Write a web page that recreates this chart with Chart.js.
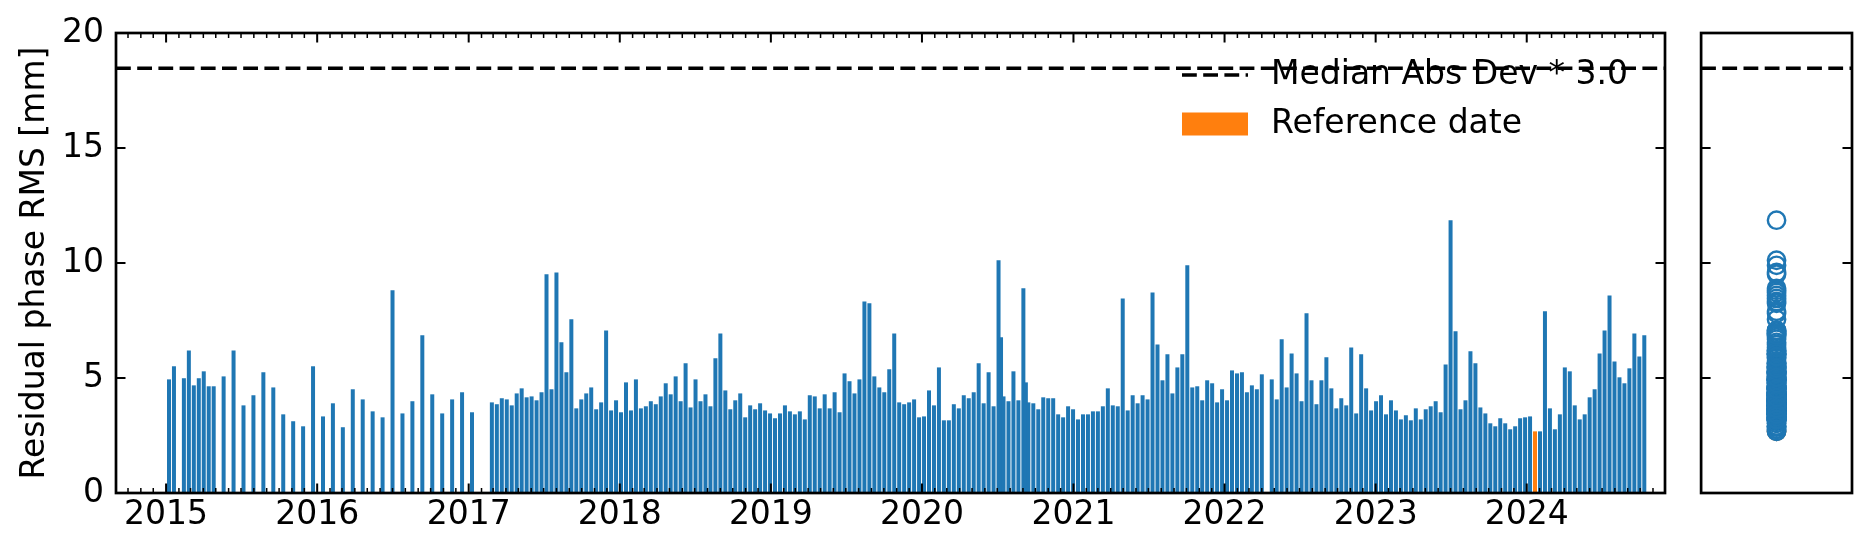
<!DOCTYPE html>
<html><head><meta charset="utf-8">
<script src="https://cdn.jsdelivr.net/npm/chart.js@4"></script>
<style>
html,body{margin:0;padding:0;background:#fff;}
#wrap{position:relative;width:1872px;height:556px;overflow:hidden;}
#main{position:absolute;left:0;top:0;}
#side{position:absolute;left:1690px;top:0;}
</style></head><body>
<div id="wrap"><canvas id="main" width="1690" height="556"></canvas><canvas id="side" width="182" height="556"></canvas></div>
<script>
// ---------- data ----------
const acqDates = [
 '2015-01-08','2015-01-20','2015-02-13','2015-02-25','2015-03-09','2015-03-21','2015-04-02','2015-04-14','2015-04-26','2015-05-20','2015-06-13','2015-07-07','2015-07-31','2015-08-24','2015-09-17','2015-10-11','2015-11-04','2015-11-28','2015-12-22',
 '2016-01-15','2016-02-08','2016-03-03','2016-03-27','2016-04-20','2016-05-14','2016-06-07','2016-07-01','2016-07-25','2016-08-18','2016-09-11','2016-10-05','2016-10-29','2016-11-22','2016-12-16',
 '2017-01-09','2017-02-26','2017-03-10','2017-03-22','2017-04-03','2017-04-15','2017-04-27','2017-05-09','2017-05-21','2017-06-02','2017-06-14','2017-06-26','2017-07-08','2017-07-20','2017-08-01','2017-08-13','2017-08-25','2017-09-06','2017-09-18','2017-09-30','2017-10-12','2017-10-24','2017-11-05','2017-11-17','2017-11-29','2017-12-11','2017-12-23',
 '2018-01-04','2018-01-16','2018-01-28','2018-02-09','2018-02-21','2018-03-05','2018-03-17','2018-03-29','2018-04-10','2018-04-22','2018-05-04','2018-05-16','2018-05-28','2018-06-09','2018-06-21','2018-07-03','2018-07-15','2018-07-27','2018-08-08','2018-08-20','2018-09-01','2018-09-13','2018-09-25','2018-10-07','2018-10-19','2018-10-31','2018-11-12','2018-11-24','2018-12-06','2018-12-18','2018-12-30',
 '2019-01-11','2019-01-23','2019-02-04','2019-02-16','2019-02-28','2019-03-12','2019-03-24','2019-04-05','2019-04-17','2019-04-29','2019-05-11','2019-05-23','2019-06-04','2019-06-16','2019-06-28','2019-07-10','2019-07-22','2019-08-03','2019-08-15','2019-08-27','2019-09-08','2019-09-20','2019-10-02','2019-10-14','2019-10-26','2019-11-07','2019-11-19','2019-12-01','2019-12-13','2019-12-25',
 '2020-01-06','2020-01-18','2020-01-30','2020-02-11','2020-02-23','2020-03-06','2020-03-18','2020-03-30','2020-04-11','2020-04-23','2020-05-05','2020-05-17','2020-05-29','2020-06-10','2020-06-22','2020-07-04','2020-07-10','2020-07-16','2020-07-28','2020-08-09','2020-08-21','2020-09-02','2020-09-08','2020-09-14','2020-09-26','2020-10-08','2020-10-20','2020-11-01','2020-11-13','2020-11-25','2020-12-07','2020-12-19','2020-12-31',
 '2021-01-12','2021-01-24','2021-02-05','2021-02-17','2021-03-01','2021-03-13','2021-03-25','2021-04-06','2021-04-18','2021-04-30','2021-05-12','2021-05-24','2021-06-05','2021-06-17','2021-06-29','2021-07-11','2021-07-23','2021-08-04','2021-08-16','2021-08-28','2021-09-09','2021-09-21','2021-10-03','2021-10-15','2021-10-27','2021-11-08','2021-11-20','2021-12-02','2021-12-14','2021-12-26',
 '2022-01-07','2022-01-19','2022-01-31','2022-02-12','2022-02-24','2022-03-08','2022-03-20','2022-04-01','2022-04-25','2022-05-07','2022-05-19','2022-05-31','2022-06-12','2022-06-24','2022-07-06','2022-07-18','2022-07-30','2022-08-11','2022-08-23','2022-09-04','2022-09-16','2022-09-28','2022-10-10','2022-10-22','2022-11-03','2022-11-15','2022-11-27','2022-12-09','2022-12-21',
 '2023-01-02','2023-01-14','2023-01-26','2023-02-07','2023-02-19','2023-03-03','2023-03-15','2023-03-27','2023-04-08','2023-04-20','2023-05-02','2023-05-14','2023-05-26','2023-06-07','2023-06-19','2023-07-01','2023-07-13','2023-07-25','2023-08-06','2023-08-18','2023-08-30','2023-09-11','2023-09-23','2023-10-05','2023-10-17','2023-10-29','2023-11-10','2023-11-22','2023-12-04','2023-12-16','2023-12-28',
 '2024-01-09','2024-01-21','2024-02-02','2024-02-14','2024-02-26','2024-03-09','2024-03-21','2024-04-02','2024-04-14','2024-04-26','2024-05-08','2024-05-20','2024-06-01','2024-06-13','2024-06-25','2024-07-07','2024-07-19','2024-07-31','2024-08-12','2024-08-24','2024-09-05','2024-09-17','2024-09-29','2024-10-11'
];
const rmsValues = [
 4.94,5.51,4.99,6.20,4.68,4.99,5.29,4.64,4.64,5.07,6.20,3.81,4.25,5.25,4.59,3.42,3.12,2.90,5.51,
 3.33,3.90,2.86,4.51,4.07,3.55,3.29,8.81,3.46,3.99,6.86,4.29,3.46,4.07,4.38,
 3.51,3.94,3.86,4.12,4.07,3.81,4.33,4.55,4.16,4.20,4.03,4.38,9.51,4.51,9.59,6.55,5.25,7.55,3.68,4.07,4.33,4.59,3.64,3.94,7.07,3.59,4.03,
 3.51,4.81,3.59,4.94,3.68,3.77,3.99,3.86,4.20,4.77,4.29,5.07,3.99,5.64,3.72,4.94,3.99,4.29,3.77,5.86,6.94,4.46,3.64,4.03,4.33,3.29,3.81,3.64,3.90,3.59,3.46,
 3.25,3.46,3.81,3.55,3.42,3.55,3.20,4.25,4.20,3.68,4.29,3.68,4.38,3.51,5.20,4.86,4.33,4.94,8.33,8.25,5.07,4.59,4.38,5.38,6.94,3.94,3.86,3.94,4.07,3.29,
 3.33,4.46,3.81,5.46,3.16,3.16,3.86,3.68,4.25,4.12,4.38,5.64,3.90,5.25,3.77,10.12,6.77,4.20,3.99,5.29,4.03,8.90,4.81,3.94,3.90,3.64,4.16,4.12,4.12,3.42,3.29,3.77,3.64,
 3.20,3.42,3.42,3.55,3.55,3.77,4.55,3.81,3.77,8.46,3.59,4.25,3.90,4.25,4.07,8.72,6.46,4.90,6.03,4.33,5.46,6.03,9.90,4.59,4.64,4.03,4.90,4.77,3.94,4.51,
 4.03,5.33,5.20,5.25,4.38,4.68,4.51,5.16,4.94,4.07,6.68,4.59,6.07,5.20,3.99,7.81,4.90,3.86,4.90,5.90,4.55,3.68,4.12,3.81,6.33,3.46,6.03,4.55,3.59,
 3.99,4.25,3.42,4.03,3.59,3.20,3.38,3.16,3.68,3.20,3.64,3.77,3.99,3.51,5.59,11.86,7.03,3.64,4.03,6.16,5.64,3.72,3.46,3.03,2.90,3.25,3.03,2.77,2.90,3.25,3.29,
 3.33,2.68,2.68,7.90,3.68,2.77,3.42,5.46,5.29,3.81,3.20,3.42,4.16,4.51,6.07,7.07,8.59,5.72,5.03,4.77,5.42,6.94,5.94,6.86
];
const referenceDate = '2024-01-21';
const madThreshold = 18.47;              // Median Abs Dev * 3.0
const yearLabels = ['2015','2016','2017','2018','2019','2020','2021','2022','2023','2024'];
const yTickValues = [0, 5, 10, 15, 20];
const xRange = ['2014-09-02', '2024-11-30'];
const legendLabels = ['Median Abs Dev * 3.0', 'Reference date'];
const yTitle = 'Residual phase RMS [mm]';

// ---------- styling ----------
const BLUE = '#1f77b4', ORANGE = '#ff7f0e';
const FONT = 'DejaVu Sans';
const DASH = [14.8, 6.4], DASH_LW = 3.6;
const toDay = s => Date.parse(s + 'T00:00:00Z') / 864e5;

function drawFrame(chart, xTicks) {
  const {ctx, chartArea: a} = chart;
  const ys = chart.scales.y;
  ctx.save();
  ctx.strokeStyle = '#000';
  ctx.lineCap = 'butt';
  ctx.lineWidth = 2;
  ctx.beginPath();
  yTickValues.forEach(v => {
    const py = ys.getPixelForValue(v);
    ctx.moveTo(a.left, py); ctx.lineTo(a.left + 9.5, py);
    ctx.moveTo(a.right, py); ctx.lineTo(a.right - 9.5, py);
  });
  ctx.stroke();
  if (xTicks) {
    const xs = chart.scales.x;
    xs.ticks.forEach(t => {
      const px = xs.getPixelForValue(t.value);
      const len = t.major ? 9.5 : 5;
      ctx.lineWidth = t.major ? 2 : 1.5;
      ctx.beginPath();
      ctx.moveTo(px, a.bottom); ctx.lineTo(px, a.bottom - len);
      ctx.moveTo(px, a.top); ctx.lineTo(px, a.top + len);
      ctx.stroke();
    });
  }
  ctx.lineWidth = 2.7;
  ctx.strokeRect(a.left, a.top, a.right - a.left, a.bottom - a.top);
  ctx.restore();
}

function drawThreshold(chart) {
  const {ctx, chartArea: a} = chart;
  const py = chart.scales.y.getPixelForValue(madThreshold);
  ctx.save();
  ctx.strokeStyle = '#000';
  ctx.lineWidth = DASH_LW;
  ctx.setLineDash(DASH);
  ctx.beginPath(); ctx.moveTo(a.left, py); ctx.lineTo(a.right, py); ctx.stroke();
  ctx.restore();
}

const mainDecor = {
  id: 'mainDecor',
  afterDatasetsDraw(chart) {
    const {ctx, chartArea: a} = chart;
    drawThreshold(chart);
    drawFrame(chart, true);
    // legend (upper right, no frame)
    const hx = a.right - 483, hw = 66, tx = a.right - 394;
    const r1 = a.top + 42, r2 = a.top + 91;
    ctx.save();
    ctx.strokeStyle = '#000'; ctx.lineWidth = DASH_LW; ctx.setLineDash(DASH);
    ctx.beginPath(); ctx.moveTo(hx, r1); ctx.lineTo(hx + hw, r1); ctx.stroke();
    ctx.setLineDash([]);
    ctx.fillStyle = ORANGE; ctx.fillRect(hx, r2 - 11.5, hw, 23);
    ctx.fillStyle = '#000';
    ctx.font = `33px "${FONT}"`;
    ctx.textBaseline = 'middle'; ctx.textAlign = 'left';
    ctx.fillText(legendLabels[0], tx, r1);
    ctx.fillText(legendLabels[1], tx, r2);
    ctx.restore();
  }
};

const sideDecor = {
  id: 'sideDecor',
  afterDatasetsDraw(chart) {
    drawThreshold(chart);
    drawFrame(chart, false);
  }
};

new Chart(document.getElementById('main'), {
  type: 'bar',
  data: {
    datasets: [{
      data: acqDates.map((d, i) => ({x: toDay(d), y: rmsValues[i]})),
      backgroundColor: c => acqDates[c.dataIndex] === referenceDate ? ORANGE : BLUE,
      borderWidth: 0,
      inflateAmount: 0,
      barThickness: 4
    }]
  },
  options: {
    responsive: false, animation: false, devicePixelRatio: 1,
    layout: {padding: {left: 0, right: 25, top: 33, bottom: 0}},
    plugins: {legend: {display: false}, tooltip: {enabled: false}},
    scales: {
      x: {
        type: 'linear', offset: false,
        min: toDay(xRange[0]), max: toDay(xRange[1]),
        grid: {display: false, drawTicks: false}, border: {display: false},
        afterBuildTicks: s => {
          const t = [];
          for (let y = 2014; y <= 2025; y++) for (let m = 0; m < 12; m++) {
            const v = Date.UTC(y, m, 1) / 864e5;
            if (v >= s.min && v <= s.max) t.push({value: v, major: m === 0});
          }
          s.ticks = t;
        },
        afterFit: s => { s.height = 63; },
        ticks: {
          autoSkip: false, maxRotation: 0, minRotation: 0, padding: 3, color: '#000',
          font: {family: FONT, size: 33},
          callback: (v, i, ticks) => {
            const yr = String(new Date(v * 864e5).getUTCFullYear());
            return ticks[i].major && yearLabels.includes(yr) ? yr : '';
          }
        }
      },
      y: {
        min: 0, max: 20,
        grid: {display: false, drawTicks: false}, border: {display: false},
        afterBuildTicks: s => { s.ticks = yTickValues.map(v => ({value: v})); },
        afterFit: s => { s.width = 116; },
        ticks: {padding: 12, color: '#000', font: {family: FONT, size: 33}},
        title: {display: true, text: yTitle, color: '#000', font: {family: FONT, size: 33}, padding: {top: 16, bottom: 0}}
      }
    }
  },
  plugins: [mainDecor]
});

const refIndex = acqDates.indexOf(referenceDate);
new Chart(document.getElementById('side'), {
  type: 'scatter',
  data: {
    datasets: [
      {data: rmsValues.map(v => ({x: 0, y: v})), borderColor: BLUE, backgroundColor: 'rgba(0,0,0,0)', pointRadius: 8.7, borderWidth: 2.4},
      {data: [{x: 0, y: rmsValues[refIndex]}], borderColor: ORANGE, backgroundColor: 'rgba(0,0,0,0)', pointRadius: 8.7, borderWidth: 2.4}
    ]
  },
  options: {
    responsive: false, animation: false, devicePixelRatio: 1,
    layout: {padding: {left: 6, right: 20, top: 33, bottom: 63}},
    plugins: {legend: {display: false}, tooltip: {enabled: false}},
    scales: {
      x: {type: 'linear', min: -1, max: 1, display: false},
      y: {min: 0, max: 20, display: false, afterBuildTicks: s => { s.ticks = yTickValues.map(v => ({value: v})); }}
    }
  },
  plugins: [sideDecor]
});
</script>
</body></html>
